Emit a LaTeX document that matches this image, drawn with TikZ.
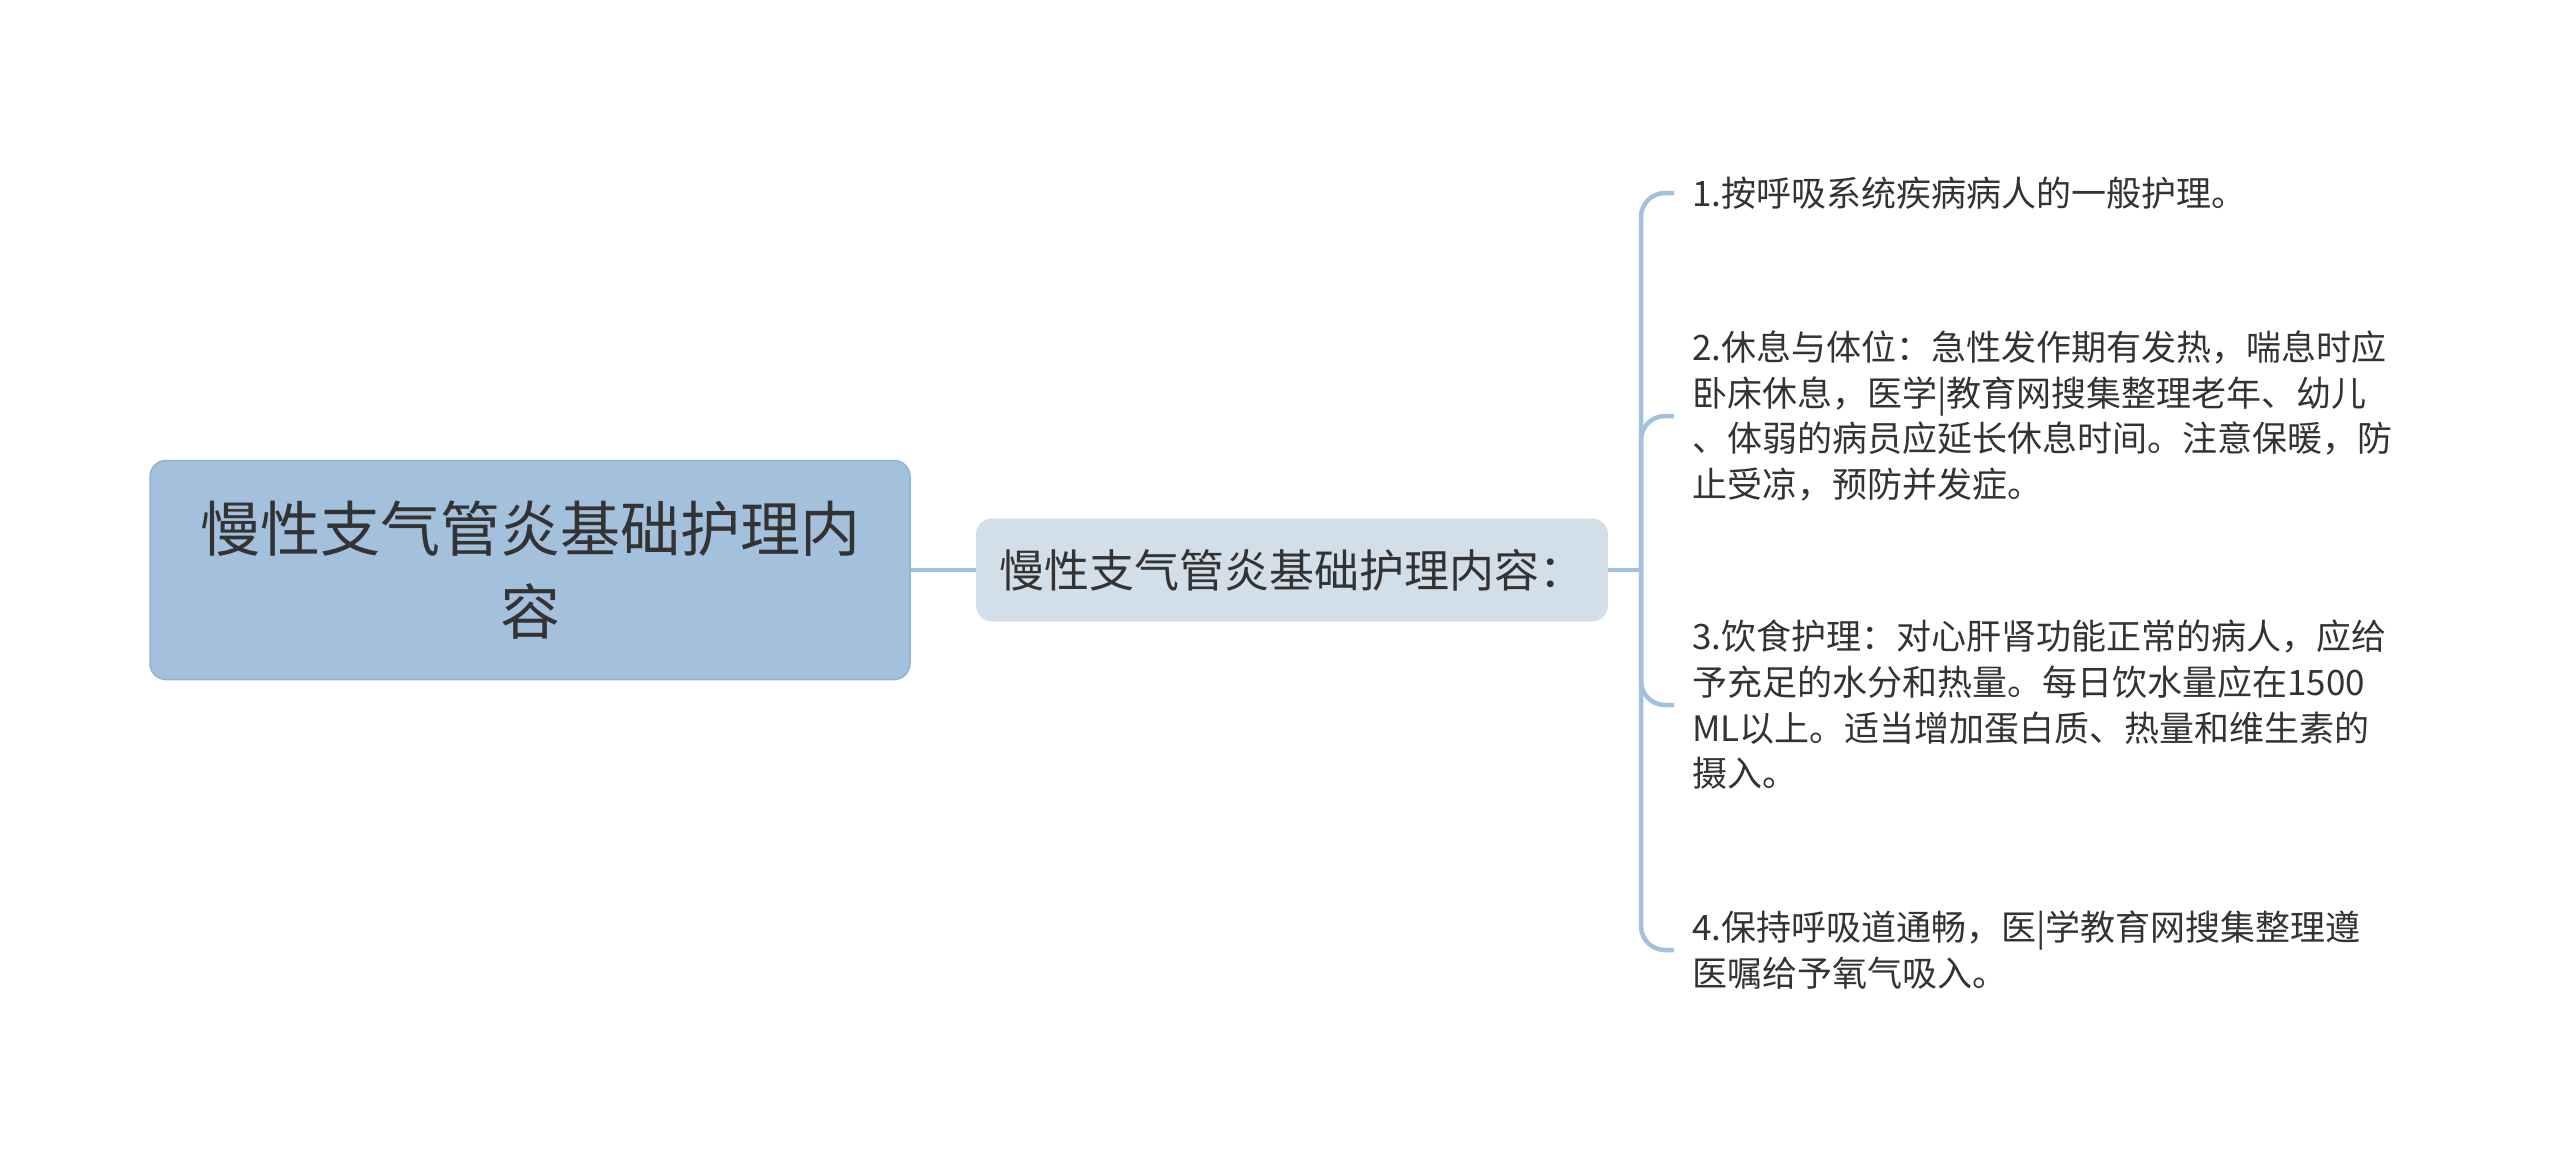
\documentclass[tikz,border=0pt]{standalone}
\usepackage{fontspec}
\setmainfont{Noto Sans CJK SC}
\usetikzlibrary{calc}
\definecolor{rootfill}{HTML}{A3C0DC}
\definecolor{rootdraw}{HTML}{93B2D2}
\definecolor{subfill}{HTML}{D3DFE8}
\definecolor{linkcol}{HTML}{A3C0DC}
\definecolor{txt}{HTML}{333333}
\tikzset{
  rootbox/.style={fill=rootfill, draw=rootdraw, line width=1.5pt, rounded corners=16pt,
    minimum width=760pt, minimum height=219pt, align=center, text=txt,
    font=\fontsize{60}{83}\selectfont, inner sep=0pt},
  subbox/.style={fill=subfill, rounded corners=16pt, minimum width=632pt, minimum height=103pt,
    align=center, text=txt, font=\fontsize{45}{52}\selectfont, inner sep=0pt},
  leaf/.style={anchor=west, align=left, text=txt, font=\fontsize{35}{45.7}\selectfont,
    inner xsep=18pt, inner ysep=0pt},
  link/.style={draw=linkcol, line width=4.5pt},
}
\begin{document}
\begin{tikzpicture}[x=1pt,y=-1pt]
\useasboundingbox (0,0) rectangle (2560,1162);
\node[rootbox] (root) at (530,570) {慢性支气管炎基础护理内\\容};
\node[subbox] (sub) at (1292,570) {慢性支气管炎基础护理内容：};
\coordinate (hub) at (1641,570);
\node[leaf] (a) at (1674,193) {1.按呼吸系统疾病病人的一般护理。};
\node[leaf] (b) at (1674,416) {2.休息与体位：急性发作期有发热，喘息时应\\卧床休息，医学|教育网搜集整理老年、幼儿\\、体弱的病员应延长休息时间。注意保暖，防\\止受凉，预防并发症。};
\node[leaf] (c) at (1674,705) {3.饮食护理：对心肝肾功能正常的病人，应给\\予充足的水分和热量。每日饮水量应在1500\\ML以上。适当增加蛋白质、热量和维生素的\\摄入。};
\node[leaf] (d) at (1674,950) {4.保持呼吸道通畅，医|学教育网搜集整理遵\\医嘱给予氧气吸入。};
\draw[link] (root.east) -- (sub.west);
\draw[link] (sub.east) -- (hub);
\foreach \n in {a,b,c,d}{
  \draw[link, rounded corners=24pt] (hub) |- (\n.west);
}
\end{tikzpicture}
\end{document}
